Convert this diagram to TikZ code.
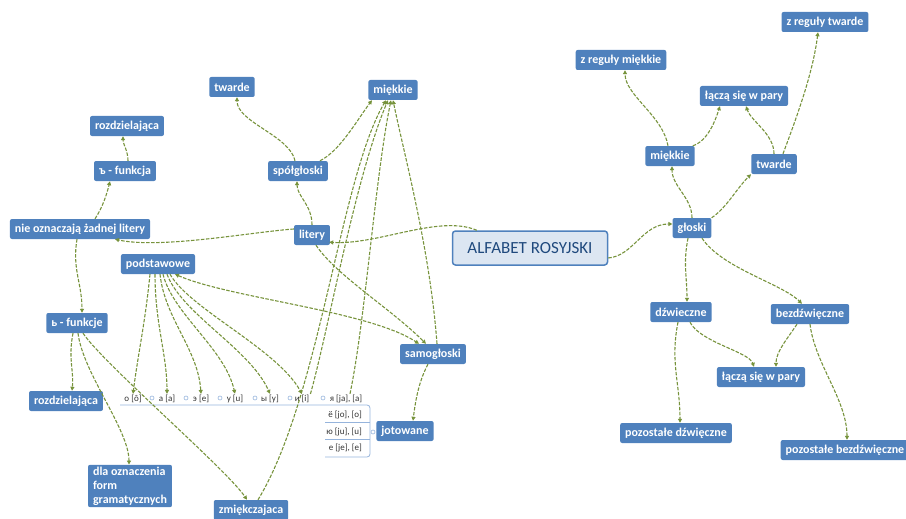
\documentclass[tikz,border=0pt]{standalone}
\usepackage{fontspec}
\setmainfont{Carlito}
\usetikzlibrary{arrows.meta}
\definecolor{topicblue}{RGB}{79,129,189}
\definecolor{rootfill}{RGB}{220,230,242}
\definecolor{roottext}{RGB}{31,73,125}
\definecolor{relgreen}{RGB}{119,147,60}
\definecolor{itemgray}{RGB}{50,50,50}
\definecolor{markblue}{RGB}{150,180,220}

\begin{document}
\begin{tikzpicture}[x=1pt,y=-1pt,
	every node/.style={font=\bfseries\fontsize{12}{14}\selectfont},
	topic/.style={fill=topicblue,text=white,rounded corners=2pt,inner xsep=5pt,inner ysep=2pt,minimum height=20pt},
	root/.style={fill=rootfill,draw=topicblue,line width=1.5pt,text=roottext,rounded corners=3pt,
		minimum width=155pt,minimum height=34pt,font=\fontsize{17}{19}\selectfont},
	item/.style={text=itemgray,inner sep=1pt,font=\fontsize{9}{10}\selectfont},
	rel/.style={relgreen,dash pattern=on 3.5pt off 1.5pt,line width=1.1pt,-{Triangle[length=4pt,width=4pt]}},
	knob/.style={draw=markblue,line width=0.6pt}]

    \useasboundingbox (0,0) rectangle (906,519);

    \node[root] (root) at (530,248) {ALFABET ROSYJSKI};

    % litery
    \node[topic] (lit) at (312,235) {litery};
    \node[topic] (spol) at (298,171) {spółgłoski};
    \node[topic] (twl) at (232,87) {twarde};
    \node[topic] (mikl) at (393,90) {miękkie};
    \node[topic] (nie) at (80,229) {nie oznaczają żadnej litery};
    \node[topic] (tfun) at (125,171) {ъ - funkcja};
    \node[topic] (rozt) at (127,126) {rozdzielająca};
    \node[topic] (mfun) at (77,323) {ь - funkcje};
    \node[topic] (rozb) at (66,401) {rozdzielająca};
    \node[topic,align=left] (dla) at (130,486) {dla oznaczenia\\form\\gramatycznych};
    \node[topic] (zmi) at (251,510) {zmiękczajaca};
    \node[topic] (pod) at (158,264) {podstawowe};
    \node[topic] (sam) at (433,354) {samogłoski};
    \node[topic] (jot) at (405,431) {jotowane};

    \node[item] (lo) at (133,399) {о [ô]};
    \node[item] (la) at (167,399) {а [а]};
    \node[item] (le) at (201,399) {э [е]};
    \node[item] (lu) at (235,399) {у [u]};
    \node[item] (ly) at (270,399) {ы [y]};
    \node[item] (li) at (302,399) {и [i]};
    \node[item] (lja) at (346,399) {я [ja], [a]};
    \node[item,anchor=east] (ljo) at (363,415) {ё [jo], [o]};
    \node[item,anchor=east] (lju) at (363,432) {ю [ju], [u]};
    \node[item,anchor=east] (lje) at (363,448) {е [je], [e]};

    \foreach \x in {152,186,220,255,290,323}
        \draw[knob] (\x,398) circle (2);
    \draw[knob,line width=0.8pt,rounded corners=3pt] (120,405) -- (370,405) -- (370,457) -- (325,457);
    \draw[knob,line width=0.8pt] (325,422) -- (370,422) (325,439) -- (370,439);
    \draw[knob] (373,432) circle (2);

    % glosy
    \node[topic] (glo) at (692,228) {głoski};
    \node[topic] (mikr) at (670,156) {miękkie};
    \node[topic] (twr) at (774,164) {twarde};
    \node[topic] (zrm) at (621,60) {z reguły miękkie};
    \node[topic] (lpt) at (744,96) {łączą się w pary};
    \node[topic] (zrt) at (825,22) {z reguły twarde};
    \node[topic] (dzw) at (681,312) {dźwieczne};
    \node[topic] (bez) at (810,314) {bezdźwięczne};
    \node[topic] (lpb) at (761,377) {łączą się w pary};
    \node[topic] (pdz) at (676,433) {pozostałe dźwięczne};
    \node[topic] (pbz) at (845,450) {pozostałe bezdźwięczne};

    \draw[rel] ([xshift=25pt]root.north west) .. controls +(-38,-16) and +(49,3) .. ([xshift=-1pt,yshift=3pt]lit.south east);
    \draw[rel] ([yshift=6pt]lit.west) .. controls +(-42,3) and +(45,10) .. ([xshift=35pt]nie.south);
    \draw[rel] (lit.north) .. controls +(0,-20) and +(0,15) .. ([xshift=-1pt]spol.south);
    \draw[rel] ([xshift=-3pt]spol.north) .. controls +(-5,-25) and +(0,25) .. ([xshift=5pt]twl.south);
    \draw[rel] ([xshift=22pt]spol.north) .. controls +(20,-10) and +(-15,20) .. ([xshift=-21pt]mikl.south);
    \draw[rel] ([xshift=4pt]lit.south) .. controls +(20,30) and +(-35,-35) .. ([xshift=-7pt]sam.north);
    \draw[rel,{Triangle[length=4pt,width=4pt]}-{Triangle[length=4pt,width=4pt]}] ([xshift=17pt]pod.south) .. controls +(55,24) and +(-50,-33) .. ([xshift=-14pt]sam.north);
    \draw[rel] ([xshift=-5pt]sam.south) .. controls +(-8,15) and +(3,-25) .. ([xshift=8pt]jot.north);

    \draw[rel] ([xshift=15pt]nie.north) .. controls +(8,-12) and +(-3,12) .. ([xshift=-15pt]tfun.south);
    \draw[rel] ([xshift=3pt]tfun.north) .. controls +(0,-10) and +(0,8) .. ([xshift=-4pt]rozt.south);
    \draw[rel] ([xshift=-3pt]nie.south) .. controls +(-5,30) and +(0,-30) .. ([xshift=5pt]mfun.north);
    \draw[rel] ([xshift=-4pt]mfun.south) .. controls +(-5,25) and +(2,-20) .. ([xshift=6pt]rozb.north);
    \draw[rel] ([xshift=1pt]mfun.south) .. controls +(5,40) and +(0,-35) .. ([xshift=-1pt]dla.north);
    \draw[rel] ([xshift=6pt]mfun.south) .. controls +(20,30) and +(-20,-30) .. ([xshift=-4pt]zmi.north);

    \draw[rel] ([xshift=-8pt]pod.south) .. controls +(-5,50) and +(5,-40) .. (lo.north);
    \draw[rel] ([xshift=-3pt]pod.south) .. controls +(0,50) and +(0,-40) .. (la.north);
    \draw[rel] ([xshift=2pt]pod.south) .. controls +(5,45) and +(-3,-45) .. (le.north);
    \draw[rel] ([xshift=5pt]pod.south) .. controls +(10,40) and +(-10,-45) .. (lu.north);
    \draw[rel] ([xshift=9pt]pod.south) .. controls +(15,40) and +(-20,-45) .. (ly.north);
    \draw[rel] ([xshift=12pt]pod.south) .. controls +(20,35) and +(-25,-45) .. (li.north);

    \draw[rel] ([xshift=7pt]zmi.north) .. controls +(62,-102) and +(-46,78) .. ([xshift=-7pt]mikl.south);
    \draw[rel] (li.north east) .. controls +(18,-64) and +(-33,78) .. ([xshift=-5pt]mikl.south);
    \draw[rel] ([xshift=4pt]lja.north) .. controls +(15,-71) and +(-16,78) .. ([xshift=-2pt]mikl.south);
    \draw[rel] ([xshift=4pt]sam.north) .. controls +(-7,-94) and +(12,58) .. (mikl.south);

    \draw[rel] ([yshift=-10pt]root.east) .. controls +(25,-2) and +(-30,0) .. ([yshift=4pt]glo.west);
    \draw[rel] (glo.north) .. controls +(0,-20) and +(0,20) .. ([xshift=2pt]mikr.south);
    \draw[rel] (glo.north east) .. controls +(15,-10) and +(-15,15) .. (twr.south west);
    \draw[rel] ([xshift=-2pt]mikr.north) .. controls +(-5,-30) and +(0,25) .. ([xshift=4pt]zrm.south);
    \draw[rel] ([xshift=-2pt]mikr.north east) .. controls +(15,-5) and +(-5,15) .. ([xshift=-24pt]lpt.south);
    \draw[rel] (twr.north) .. controls +(0,-20) and +(5,15) .. ([xshift=2pt]lpt.south);
    \draw[rel] ([xshift=9pt]twr.north) .. controls +(15,-40) and +(-5,40) .. ([xshift=-7pt]zrt.south);
    \draw[rel] ([xshift=-4pt]glo.south) .. controls +(-5,25) and +(0,-25) .. ([xshift=6pt]dzw.north);
    \draw[rel] ([xshift=10pt]glo.south) .. controls +(20,30) and +(-20,-20) .. ([xshift=-8pt]bez.north);
    \draw[rel] ([xshift=9pt]dzw.south) .. controls +(10,20) and +(-5,-15) .. ([xshift=-7pt]lpb.north);
    \draw[rel] ([xshift=-3pt]dzw.south) .. controls +(-8,40) and +(0,-40) .. ([xshift=4pt]pdz.north);
    \draw[rel] ([xshift=-13pt]bez.south) .. controls +(-10,15) and +(0,-15) .. ([xshift=15pt]lpb.north);
    \draw[rel] (bez.south) .. controls +(5,40) and +(0,-40) .. ([xshift=2pt]pbz.north);

\end{tikzpicture}
\end{document}
